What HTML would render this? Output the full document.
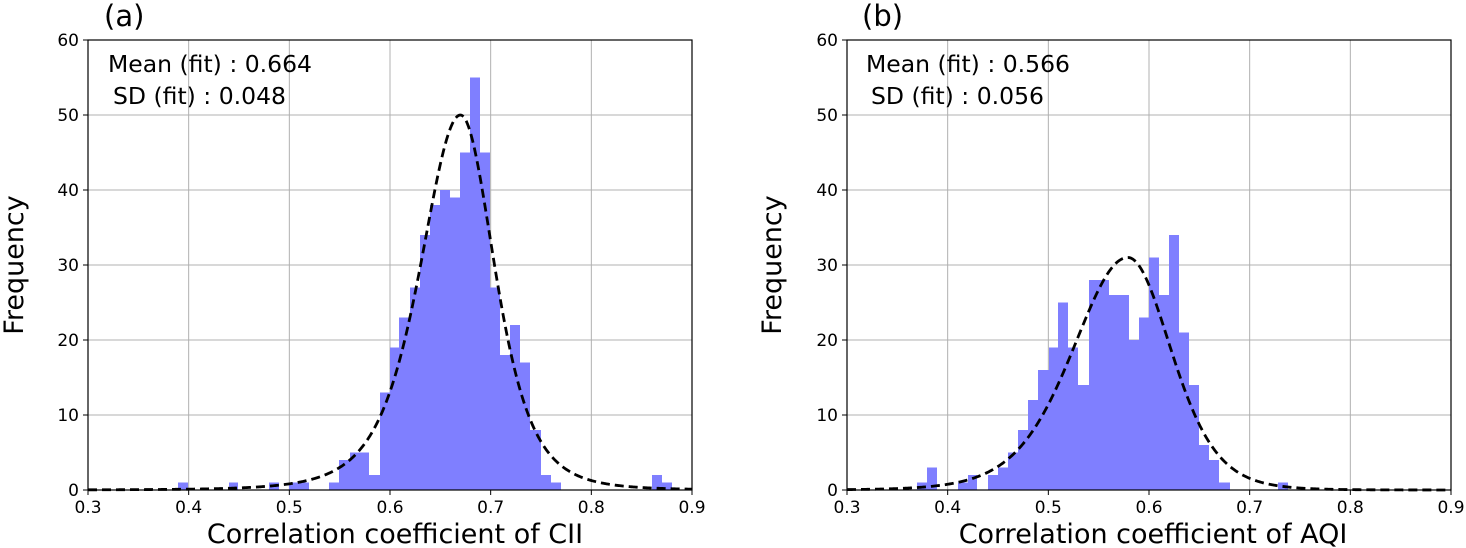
<!DOCTYPE html>
<html><head><meta charset="utf-8"><style>
html,body{margin:0;padding:0;background:#fff}
svg{display:block;font-family:"DejaVu Sans","Liberation Sans",sans-serif}
</style></head><body>
<svg id="s" width="1466" height="548" viewBox="0 0 1466 548" xmlns="http://www.w3.org/2000/svg">
<g id="g"></g>
<text x="104" y="26" font-size="29">(a)</text>
<text x="862" y="26" font-size="29">(b)</text>
<text x="108" y="72" font-size="23.5">Mean (fit) : 0.664</text>
<text x="113" y="104" font-size="23.5">SD (fit) : 0.048</text>
<text x="866" y="72" font-size="23.5">Mean (fit) : 0.566</text>
<text x="871" y="104" font-size="23.5">SD (fit) : 0.056</text>
<text x="395" y="543" font-size="27" text-anchor="middle">Correlation coefficient of CII</text>
<text x="1153" y="543" font-size="27" text-anchor="middle">Correlation coefficient of AQI</text>
<text transform="translate(23,265) rotate(-90)" font-size="27" text-anchor="middle">Frequency</text>
<text transform="translate(781,265) rotate(-90)" font-size="27" text-anchor="middle">Frequency</text>
</svg>
<script>
var NS="http://www.w3.org/2000/svg",g=document.getElementById('g');
function el(t,a,txt){var e=document.createElementNS(NS,t);for(var k in a)e.setAttribute(k,a[k]);if(txt!=null)e.textContent=txt;g.appendChild(e);return e;}
function chart(x0,x1,bars,curve){
 var y0=490,y60=40,sx=(x1-x0)/0.6,sy=7.5;
 for(var i=0;i<=6;i++){var x=x0+i*(x1-x0)/6;el('line',{x1:x,x2:x,y1:y60,y2:y0,stroke:'#b0b0b0','stroke-width':1});
  el('line',{x1:x,x2:x,y1:y0,y2:y0+5,stroke:'#000','stroke-width':1});
  el('text',{x:x,y:y0+23,'font-size':17,'text-anchor':'middle'},(0.3+i*0.1).toFixed(1));}
 for(var j=0;j<=6;j++){var y=y0-j*10*sy;el('line',{x1:x0,x2:x1,y1:y,y2:y,stroke:'#b0b0b0','stroke-width':1});
  el('line',{x1:x0-5,x2:x0,y1:y,y2:y,stroke:'#000','stroke-width':1});
  el('text',{x:x0-9,y:y+6,'font-size':17,'text-anchor':'end'},String(j*10));}
 bars.forEach(function(b){el('rect',{x:b[0],y:y0-b[2]*sy,width:b[1]-b[0],height:b[2]*sy,fill:'#7f7fff'});});
 var d='';for(var p=0;p<=600;p++){var v=0.3+p*0.001;var val=curve(v);d+=(p?'L':'M')+(x0+(v-0.3)*sx).toFixed(2)+','+(y0-val*sy).toFixed(2);}
 el('path',{d:d,fill:'none',stroke:'#000','stroke-width':2.8,'stroke-dasharray':'9,5'});
 el('rect',{x:x0,y:y60,width:x1-x0,height:y0-y60,fill:'none',stroke:'#000','stroke-width':1.2});
}
var A=[[178,188,1],[229,238,1],[269,279,1],[289,309,1],[329,339,1],[339,350,4],[350,369,5],[369,380,2],[380,390,13],[390,399,19],[399,410,23],[410,420,27],[420,430,34],[430,440,38],[440,450,40],[450,460,39],[460,470,45],[470,480,55],[480,490,45],[490,500,27],[500,510,18],[510,520,22],[520,530,17],[530,541,8],[541,551,2],[551,561,1],[652,662,2],[662,672,1]];
var B=[[917,927,1],[927,937,3],[958,968,1],[968,977,2],[988,998,2],[998,1008,3],[1008,1018,5],[1018,1028,8],[1028,1038,12],[1038,1049,16],[1049,1058,19],[1058,1068,25],[1068,1078,19],[1078,1089,14],[1089,1109,28],[1109,1129,26],[1129,1139,20],[1139,1149,23],[1149,1159,31],[1159,1169,26],[1169,1179,34],[1179,1189,21],[1189,1199,14],[1199,1209,6],[1209,1219,4],[1219,1230,1],[1278,1288,1]];
chart(88,692,A,function(v){var c=0.670,s=v<c?0.0416:0.0355,z=(v-c)/s;return 50*Math.pow(1+z*z/4,-2.5);});
chart(847,1451,B,function(v){var c=0.579,s=v<c?0.056:0.044,z=(v-c)/s;return 31*Math.pow(1+z*z/8,-4.5);});
</script>
</body></html>
